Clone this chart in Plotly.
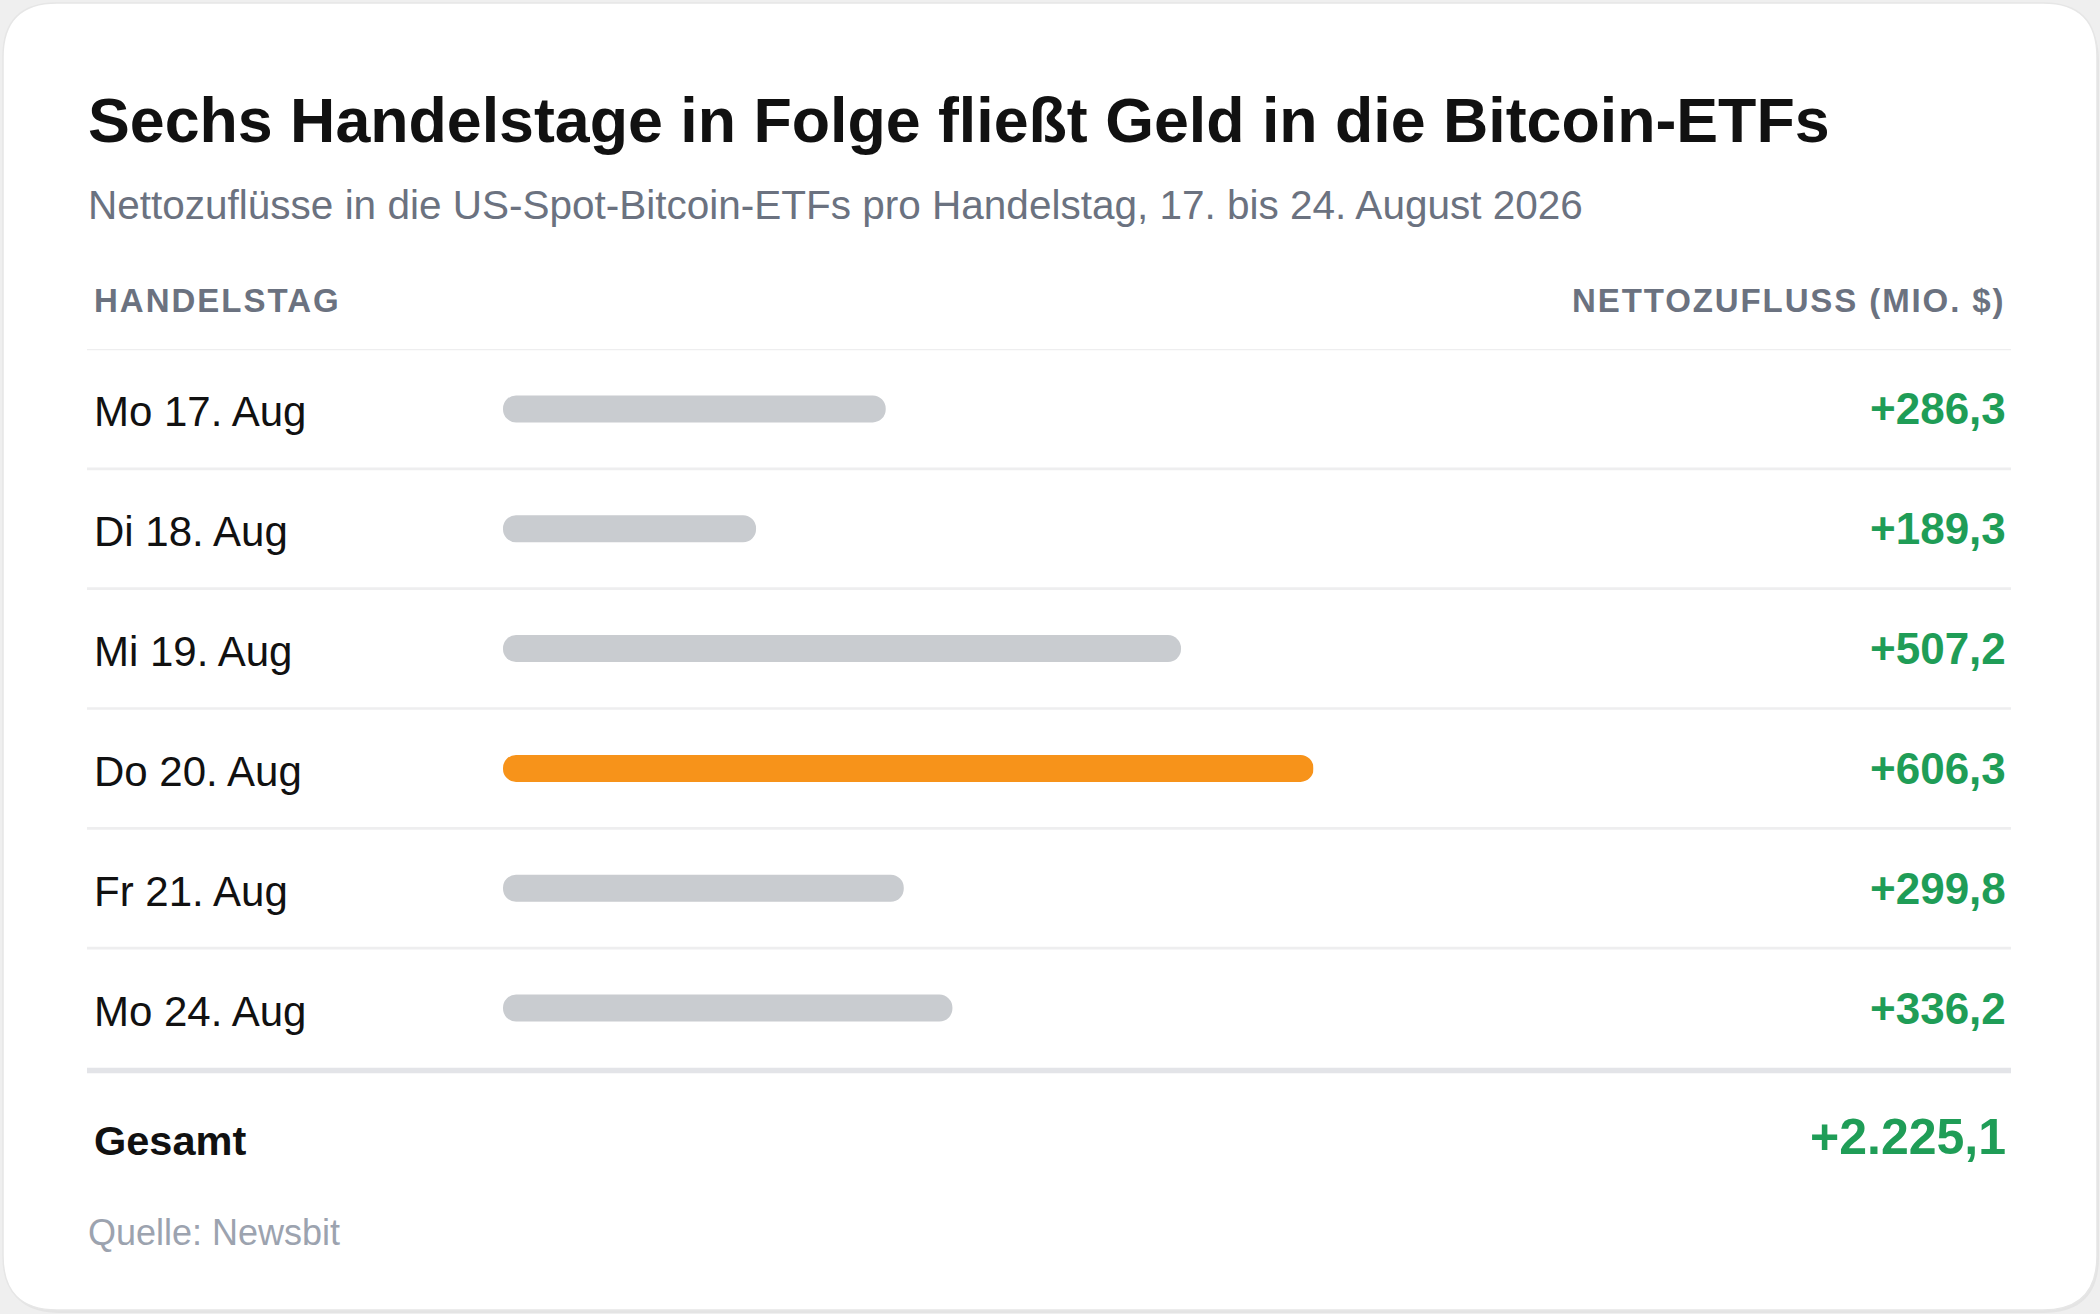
import plotly.graph_objects as go

# Daten
days = ["Mo 17. Aug", "Di 18. Aug", "Mi 19. Aug", "Do 20. Aug", "Fr 21. Aug", "Mo 24. Aug"]
flows = [286.3, 189.3, 507.2, 606.3, 299.8, 336.2]  # Mio. $

title = "Sechs Handelstage in Folge fließt Geld in die Bitcoin-ETFs"
subtitle = "Nettozuflüsse in die US-Spot-Bitcoin-ETFs pro Handelstag, 17. bis 24. August 2026"
col_left = "HANDELSTAG"
col_right = "NETTOZUFLUSS (MIO. $)"
total_label = "Gesamt"
source = "Quelle: Newsbit"

W, H = 2100, 1314
FONT = "Liberation Sans, Arial, Helvetica, sans-serif"
ORANGE = "#f7931a"
GREY_BAR = "#c9ccd0"
GREEN = "#1f9d57"
DARK = "#111111"
MUTED = "#6b7280"


def de(v):
    # deutsches Zahlenformat: +2.225,1
    s = f"{v:+,.1f}"
    return s.replace(",", "X").replace(".", ",").replace("X", ".")


def px(x):
    return x / W


def py(y):
    return 1 - y / H


def rounded(x0, y0, x1, y1, r):
    # abgerundetes Rechteck in Pixeln -> Pfad in paper-Koordinaten
    X = lambda x: f"{x / W:.5f}"
    Y = lambda y: f"{1 - y / H:.5f}"
    return (f"M {X(x0 + r)},{Y(y0)} L {X(x1 - r)},{Y(y0)} Q {X(x1)},{Y(y0)} {X(x1)},{Y(y0 + r)} "
            f"L {X(x1)},{Y(y1 - r)} Q {X(x1)},{Y(y1)} {X(x1 - r)},{Y(y1)} "
            f"L {X(x0 + r)},{Y(y1)} Q {X(x0)},{Y(y1)} {X(x0)},{Y(y1 - r)} "
            f"L {X(x0)},{Y(y0 + r)} Q {X(x0)},{Y(y0)} {X(x0 + r)},{Y(y0)} Z")


top = max(flows)
colors = [ORANGE if v == top else GREY_BAR for v in flows]
total = sum(flows)

fig = go.Figure()

# Pillen-Balken (mit explizitem base werden beide Enden gerundet)
fig.add_trace(go.Bar(
    x=flows, base=[0] * len(flows), y=days, orientation="h",
    width=0.225,
    marker=dict(color=colors, cornerradius=13, line=dict(width=0)),
    hoverinfo="skip",
))

shapes = [
    dict(type="path", xref="paper", yref="paper", path=rounded(4, 6, 2099, 1313, 56),
         fillcolor="#e4e4e4", line=dict(width=0), layer="below"),
    dict(type="path", xref="paper", yref="paper", path=rounded(3, 3, 2097, 1310, 54),
         fillcolor="white", line=dict(color="#e6e6e6", width=1.5), layer="below"),
]
# Trennlinien zwischen den Zeilen
for i in range(len(days)):
    shapes.append(dict(type="line", xref="paper", yref="y", x0=px(87), x1=px(2011),
                       y0=i - 0.5, y1=i - 0.5, line=dict(color="#eeeeef", width=2.6),
                       layer="below"))
# kräftige Linie über der Summe
shapes.append(dict(type="line", xref="paper", yref="paper", x0=px(87), x1=px(2011),
                   y0=py(1070.5), y1=py(1070.5), line=dict(color="#e3e4e8", width=5.5),
                   layer="below"))

ann = [
    dict(text=title, x=px(86), y=py(120), font=dict(size=62.7, color=DARK, weight="bold")),
    dict(text=subtitle, x=px(86), y=py(205), font=dict(size=40.5, color=MUTED)),
    dict(text=f"<span style='letter-spacing:2px'>{col_left}</span>", x=px(92), y=py(300),
         font=dict(size=33, color=MUTED, weight="bold")),
    dict(text=f"<span style='letter-spacing:1.9px'>{col_right}</span>", x=px(2007), y=py(300),
         xanchor="right", font=dict(size=33, color=MUTED, weight="bold")),
    dict(text=total_label, x=px(92), y=py(1140), font=dict(size=41.5, color=DARK, weight="bold")),
    dict(text=de(total), x=px(2008), y=py(1137), xanchor="right",
         font=dict(size=50, color=GREEN, weight="bold")),
    dict(text=source, x=px(86), y=py(1232), font=dict(size=36, color="#9ca3af")),
]
for d, v in zip(days, flows):
    ann.append(dict(text=d, x=px(92), y=d, yref="y", yshift=-3, font=dict(size=42, color=DARK)))
    ann.append(dict(text=de(v), x=px(2008), y=d, yref="y", xanchor="right",
                    font=dict(size=44, color=GREEN, weight="bold")))
for a in ann:
    a.setdefault("xref", "paper")
    a.setdefault("yref", "paper")
    a.setdefault("xanchor", "left")
    a["yanchor"] = "middle"
    a["showarrow"] = False

fig.update_layout(
    width=W, height=H,
    margin=dict(l=0, r=0, t=0, b=0),
    paper_bgcolor="#efefef",
    plot_bgcolor="rgba(0,0,0,0)",
    font=dict(family=FONT),
    showlegend=False,
    hovermode=False,
    shapes=shapes,
    annotations=ann,
    xaxis=dict(domain=[503 / W, 1313.5 / W], range=[0, top], visible=False, fixedrange=True),
    yaxis=dict(domain=[1 - 1068 / H, 1 - 349 / H], range=[len(days) - 0.5, -0.5],
               visible=False, fixedrange=True),
)

fig.write_html("out.html", config=dict(displayModeBar=False),
               post_script="document.body.style.margin='0';")
